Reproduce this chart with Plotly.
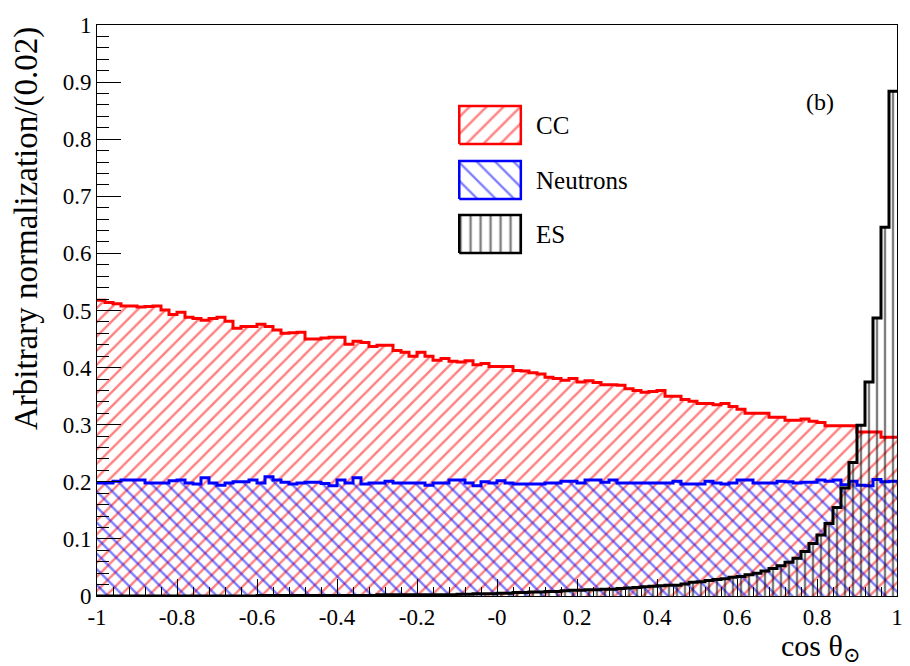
import numpy as np
import plotly.graph_objects as go

# Binning: 100 bins of width 0.02 in cos(theta_sun)
n_bins = 100
x_min, x_max = -1.0, 1.0

cc_values = [
    0.518, 0.514, 0.512, 0.508, 0.508, 0.506, 0.507, 0.508, 0.501, 0.493,
    0.497, 0.488, 0.486, 0.483, 0.486, 0.488, 0.481, 0.469, 0.472, 0.472,
    0.476, 0.472, 0.466, 0.460, 0.461, 0.462, 0.450, 0.450, 0.452, 0.453,
    0.453, 0.441, 0.446, 0.444, 0.437, 0.439, 0.439, 0.430, 0.427, 0.420,
    0.427, 0.420, 0.413, 0.416, 0.411, 0.410, 0.412, 0.405, 0.407, 0.402,
    0.402, 0.402, 0.395, 0.394, 0.391, 0.389, 0.383, 0.381, 0.378, 0.381,
    0.375, 0.377, 0.374, 0.370, 0.370, 0.369, 0.363, 0.360, 0.357, 0.358,
    0.360, 0.350, 0.350, 0.344, 0.341, 0.337, 0.337, 0.335, 0.337, 0.332,
    0.327, 0.320, 0.320, 0.320, 0.313, 0.313, 0.308, 0.308, 0.310, 0.306,
    0.304, 0.298, 0.298, 0.298, 0.298, 0.287, 0.287, 0.287, 0.278, 0.278,
]

neutron_values = [
    0.198, 0.198, 0.201, 0.203, 0.203, 0.203, 0.198, 0.198, 0.198, 0.202,
    0.203, 0.198, 0.196, 0.207, 0.198, 0.194, 0.198, 0.200, 0.200, 0.203,
    0.198, 0.209, 0.203, 0.199, 0.196, 0.198, 0.199, 0.199, 0.197, 0.193,
    0.203, 0.198, 0.207, 0.196, 0.198, 0.198, 0.201, 0.198, 0.198, 0.198,
    0.198, 0.194, 0.198, 0.198, 0.203, 0.203, 0.198, 0.193, 0.200, 0.198,
    0.202, 0.198, 0.196, 0.196, 0.196, 0.196, 0.198, 0.198, 0.201, 0.201,
    0.198, 0.203, 0.203, 0.199, 0.203, 0.198, 0.198, 0.198, 0.198, 0.198,
    0.198, 0.198, 0.201, 0.196, 0.196, 0.196, 0.201, 0.198, 0.196, 0.198,
    0.203, 0.203, 0.198, 0.198, 0.198, 0.201, 0.200, 0.198, 0.199, 0.199,
    0.203, 0.201, 0.203, 0.195, 0.201, 0.194, 0.193, 0.204, 0.200, 0.201,
]

es_values = [
    0.000, 0.000, 0.000, 0.000, 0.000, 0.000, 0.000, 0.000, 0.000, 0.000,
    0.000, 0.000, 0.000, 0.000, 0.000, 0.000, 0.000, 0.000, 0.000, 0.000,
    0.001, 0.001, 0.001, 0.001, 0.001, 0.001, 0.001, 0.001, 0.001, 0.001,
    0.001, 0.001, 0.001, 0.001, 0.001, 0.002, 0.002, 0.002, 0.002, 0.002,
    0.002, 0.002, 0.002, 0.002, 0.002, 0.003, 0.003, 0.004, 0.004, 0.004,
    0.005, 0.005, 0.006, 0.006, 0.007, 0.007, 0.008, 0.008, 0.009, 0.010,
    0.010, 0.011, 0.011, 0.012, 0.012, 0.013, 0.014, 0.015, 0.016, 0.017,
    0.018, 0.019, 0.019, 0.021, 0.024, 0.025, 0.027, 0.029, 0.030, 0.033,
    0.034, 0.037, 0.040, 0.044, 0.048, 0.053, 0.059, 0.066, 0.078, 0.092,
    0.107, 0.127, 0.155, 0.189, 0.234, 0.299, 0.375, 0.487, 0.646, 0.884,
]

x_tick_vals = [-1, -0.8, -0.6, -0.4, -0.2, 0, 0.2, 0.4, 0.6, 0.8, 1]
x_tick_text = ["-1", "-0.8", "-0.6", "-0.4", "-0.2", "-0", "0.2", "0.4", "0.6", "0.8", "1"]
y_tick_vals = [0, 0.1, 0.2, 0.3, 0.4, 0.5, 0.6, 0.7, 0.8, 0.9, 1]
y_tick_text = ["0", "0.1", "0.2", "0.3", "0.4", "0.5", "0.6", "0.7", "0.8", "0.9", "1"]

# name, values, colour, hatch shape, hatch spacing, hatch solidity
series = [
    ("CC", cc_values, "#ff0000", "/", 10, 0.24),
    ("Neutrons", neutron_values, "#0000ff", "\\", 11, 0.22),
    ("ES", es_values, "#000000", "|", 8, 0.3),
]

edges = np.linspace(x_min, x_max, n_bins + 1)
SERIF = "Times New Roman, Liberation Serif, DejaVu Serif, serif"

W, H = 910, 666
ML, MR, MT, MB = 97, 7, 25, 70
PW, PH = W - ML - MR, H - MT - MB


def px_to_paper_x(px):
    return (px - ML) / PW


def px_to_paper_y(py):
    return (H - MB - py) / PH


fig = go.Figure()

# Hatched step histograms
for name, vals, color, shape, size, solid in series:
    xs = list(edges)
    ys = list(vals) + [vals[-1]]
    fig.add_trace(go.Scatter(
        x=xs, y=ys, mode="lines", line_shape="hv",
        line=dict(color=color, width=3),
        fill="tozeroy", fillcolor="rgba(0,0,0,0)",
        fillpattern=dict(shape=shape, fgcolor=color, bgcolor="rgba(0,0,0,0)",
                         size=size, solidity=solid, fillmode="overlay"),
        showlegend=False, hoverinfo="skip", name=name,
    ))

# Legend swatches drawn in small auxiliary axes
legend_left, legend_right = 462, 524
legend_rows = [(106, 144), (161, 199), (215, 253)]
pad = 0.06
for k, ((name, vals, color, shape, size, solid), (top, bottom)) in enumerate(zip(series, legend_rows)):
    ax_id = k + 2
    fig.add_trace(go.Scatter(
        x=[0, 1, 1, 0, 0], y=[0, 0, 1, 1, 0], mode="lines",
        line=dict(color=color, width=2.5),
        fill="toself", fillcolor="rgba(0,0,0,0)",
        fillpattern=dict(shape=shape, fgcolor=color, bgcolor="rgba(0,0,0,0)",
                         size=size + 2, solidity=solid * 0.8, fillmode="overlay"),
        xaxis=f"x{ax_id}", yaxis=f"y{ax_id}",
        showlegend=False, hoverinfo="skip",
    ))
    wpx = legend_right - legend_left
    hpx = bottom - top
    fig.layout[f"xaxis{ax_id}"] = dict(
        domain=[px_to_paper_x(legend_left - pad * wpx), px_to_paper_x(legend_right + pad * wpx)],
        range=[-pad, 1 + pad], visible=False, fixedrange=True, anchor=f"y{ax_id}")
    fig.layout[f"yaxis{ax_id}"] = dict(
        domain=[px_to_paper_y(bottom + pad * hpx), px_to_paper_y(top - pad * hpx)],
        range=[-pad, 1 + pad], visible=False, fixedrange=True, anchor=f"x{ax_id}")
    fig.add_annotation(
        x=px_to_paper_x(537), y=px_to_paper_y((top + bottom) / 2),
        xref="paper", yref="paper", xanchor="left", yanchor="middle",
        text=name, showarrow=False, font=dict(family=SERIF, size=25, color="black"))

fig.update_layout(
    width=W, height=H,
    margin=dict(l=ML, r=MR, t=MT, b=MB),
    paper_bgcolor="white", plot_bgcolor="white",
    showlegend=False,
    font=dict(family=SERIF, color="black"),
    xaxis=dict(
        range=[x_min, x_max], tickvals=x_tick_vals, ticktext=x_tick_text,
        ticks="inside", ticklen=17, tickwidth=1, tickcolor="black",
        minor=dict(dtick=0.04, tick0=-1, ticks="inside", ticklen=9, tickcolor="black", tickwidth=1),
        showline=True, mirror=True, linecolor="black", linewidth=1,
        showgrid=False, zeroline=False,
        tickfont=dict(family=SERIF, size=23, color="black"),
    ),
    yaxis=dict(
        range=[0, 1], tickvals=y_tick_vals, ticktext=y_tick_text,
        ticks="inside", ticklen=24, tickwidth=1, tickcolor="black",
        minor=dict(dtick=0.02, tick0=0, ticks="inside", ticklen=12, tickcolor="black", tickwidth=1),
        showline=True, mirror=True, linecolor="black", linewidth=1,
        showgrid=False, zeroline=False,
        tickfont=dict(family=SERIF, size=23, color="black"),
    ),
)

# Axis titles (right/top aligned)
fig.add_annotation(
    x=px_to_paper_x(26), y=1.0, xref="paper", yref="paper",
    xanchor="center", yanchor="top", textangle=-90,
    text="Arbitrary normalization/(0.02)", showarrow=False,
    font=dict(family=SERIF, size=33, color="black"))
fig.add_annotation(
    x=px_to_paper_x(868), y=px_to_paper_y(648), xref="paper", yref="paper",
    xanchor="right", yanchor="middle",
    text="cos θ<sub>⊙</sub>", showarrow=False,
    font=dict(family=SERIF, size=30, color="black"))
fig.add_annotation(
    x=px_to_paper_x(825), y=px_to_paper_y(102), xref="paper", yref="paper",
    xanchor="center", yanchor="middle",
    text="(b)", showarrow=False,
    font=dict(family=SERIF, size=24, color="black"))

fig.write_html("out.html")
